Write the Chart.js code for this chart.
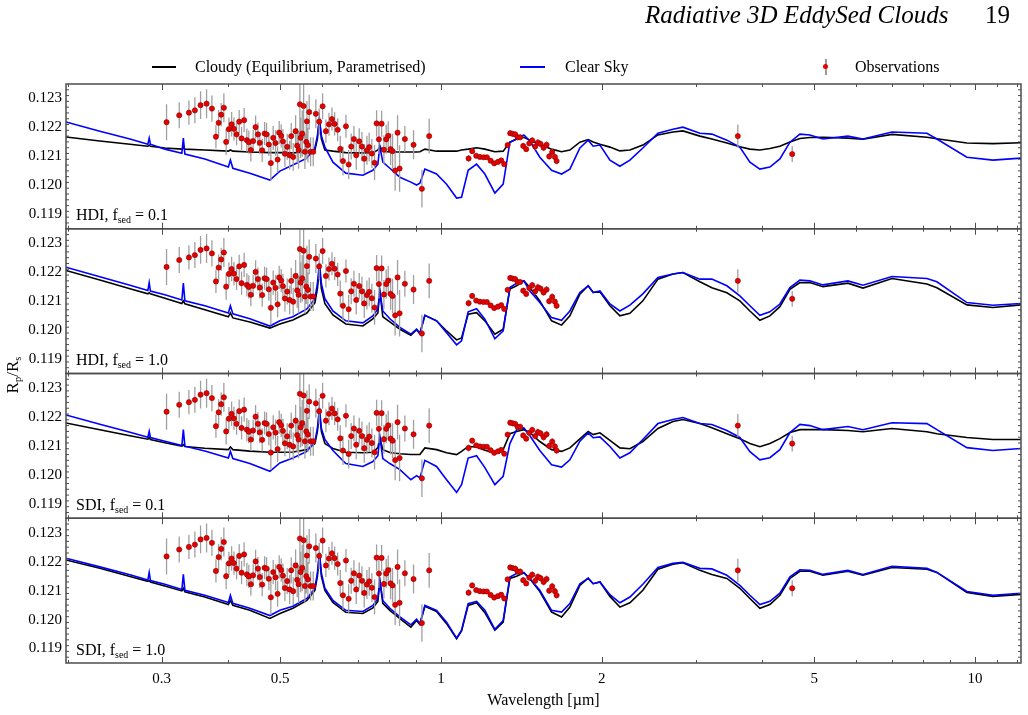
<!DOCTYPE html>
<html><head><meta charset="utf-8">
<script src="https://cdn.jsdelivr.net/npm/chart.js@4.4.1/dist/chart.umd.min.js"></script>
<style>
html,body{margin:0;padding:0;background:#fff;}
#wrap{position:relative;width:1028px;height:715px;font-family:'Liberation Serif','Times New Roman',serif;color:#000;overflow:hidden;}
#c{position:absolute;left:0;top:0;}
.t{position:absolute;white-space:nowrap;}
.hdr{top:0;font-size:25px;line-height:30px;}
.leg{top:57px;font-size:16px;line-height:20px;}
.lab{left:76px;font-size:16px;line-height:20px;}
sub{font-size:0.62em;vertical-align:baseline;position:relative;top:0.28em;}
.sw{position:absolute;height:2px;top:66px;}
#ytitle{position:absolute;left:14px;top:375px;font-size:17px;line-height:20px;transform:translate(-50%,-50%) rotate(-90deg);white-space:nowrap;}
</style></head>
<body>
<div id="wrap">
<canvas id="c" width="1028" height="715"></canvas>
<div class="t hdr" style="left:645px;font-style:italic;">Radiative 3D EddySed Clouds</div>
<div class="t hdr" style="left:985px;">19</div>
<div class="sw" style="left:152px;width:24px;background:#000;"></div>
<div class="t leg" style="left:195px;">Cloudy (Equilibrium, Parametrised)</div>
<div class="sw" style="left:520px;width:25px;background:#0000ff;"></div>
<div class="t leg" style="left:565px;">Clear Sky</div>
<div style="position:absolute;left:825px;top:59px;width:1.5px;height:16px;background:#9b9b9b;"></div>
<div style="position:absolute;left:823px;top:64px;width:5px;height:5px;border-radius:50%;background:#e60000;"></div>
<div class="t leg" style="left:855px;">Observations</div>
<div id="ytitle">R<sub>p</sub>/R<sub>s</sub></div>
<div class="t lab" style="top:205px;">HDI, f<sub>sed</sub> = 0.1</div>
<div class="t lab" style="top:350px;">HDI, f<sub>sed</sub> = 1.0</div>
<div class="t lab" style="top:495px;">SDI, f<sub>sed</sub> = 0.1</div>
<div class="t lab" style="top:640px;">SDI, f<sub>sed</sub> = 1.0</div>
</div>
<script>
// ---------- data ----------
const xTickLabels = [0.3, 0.5, 1, 2, 5, 10];
const yTickLabels = [0.119, 0.120, 0.121, 0.122, 0.123];

// model wavelength grid [micron]
const wl = [0.1986,0.2298,0.2617,0.2827,0.2843,0.2858,0.3042,0.3273,0.3294,0.3316,
0.3614,0.4000,0.4035,0.4078,0.4388,0.4784,0.4995,0.5283,0.5612,0.5808,
0.5871,0.5923,0.5974,0.6065,0.6278,0.6636,0.7143,0.7458,0.7621,0.7685,
0.7785,0.8025,0.8381,0.8786,0.9006,0.9134,0.9333,0.9816,1.0249,1.0701,
1.0932,1.1248,1.1665,1.2089,1.2621,1.3082,1.3465,1.3859,1.4303,1.4678,
1.5321,1.6117,1.6827,1.7441,1.8209,1.8871,1.9283,1.9854,2.0728,2.1639,
2.2593,2.3891,2.5496,2.7199,2.8396,3.0549,3.2171,3.4323,3.6292,3.7904,
3.9573,4.1316,4.3136,4.5050,4.7023,4.9091,5.1929,5.7835,6.1715,6.9937,
8.1310,8.4889,9.6605,10.807,12.196];

// Panel 1: HDI, fsed = 0.1
const clear1 = [0.12219,0.12187,0.12160,0.12142,0.12163,0.12142,0.12125,0.12111,0.12163,0.12108,
0.12091,0.12063,0.12087,0.12059,0.12042,0.12018,0.12049,0.12070,0.12094,0.12129,
0.12170,0.12229,0.12170,0.12132,0.12080,0.12042,0.12035,0.12052,0.12073,0.12135,
0.12080,0.12059,0.12028,0.12011,0.12001,0.12007,0.12056,0.12039,0.12004,0.11956,
0.11959,0.12052,0.12073,0.12039,0.11973,0.12004,0.12149,0.12160,0.12174,0.12153,
0.12097,0.12052,0.12039,0.12056,0.12129,0.12156,0.12135,0.12139,0.12087,0.12066,
0.12087,0.12129,0.12180,0.12194,0.12201,0.12180,0.12177,0.12156,0.12132,0.12080,
0.12056,0.12063,0.12091,0.12149,0.12177,0.12174,0.12160,0.12170,0.12160,0.12184,
0.12180,0.12160,0.12097,0.12087,0.12094];
const cloudy1 = [0.12167,0.12153,0.12142,0.12135,0.12139,0.12135,0.12129,0.12125,0.12129,0.12125,
0.12122,0.12118,0.12122,0.12118,0.12115,0.12113,0.12113,0.12112,0.12115,0.12122,
0.12160,0.12229,0.12160,0.12122,0.12118,0.12113,0.12112,0.12112,0.12122,0.12135,
0.12118,0.12115,0.12115,0.12115,0.12115,0.12116,0.12125,0.12118,0.12118,0.12118,
0.12122,0.12125,0.12130,0.12125,0.12116,0.12118,0.12149,0.12160,0.12166,0.12156,
0.12142,0.12125,0.12116,0.12122,0.12149,0.12158,0.12150,0.12142,0.12132,0.12119,
0.12122,0.12139,0.12174,0.12184,0.12188,0.12170,0.12160,0.12146,0.12133,0.12125,
0.12122,0.12127,0.12135,0.12150,0.12162,0.12165,0.12166,0.12163,0.12159,0.12176,
0.12166,0.12161,0.12146,0.12144,0.12147];

// Panel 2: HDI, fsed = 1.0
const clear2 = [0.12217,0.12184,0.12155,0.12137,0.12164,0.12135,0.12122,0.12104,0.12162,0.12101,
0.12084,0.12059,0.12084,0.12056,0.12039,0.12014,0.12032,0.12046,0.12073,0.12108,
0.12160,0.12232,0.12160,0.12108,0.12066,0.12032,0.12025,0.12049,0.12073,0.12135,
0.12066,0.12039,0.12009,0.11986,0.12003,0.11989,0.12051,0.12032,0.11991,0.11949,
0.11963,0.12063,0.12074,0.12038,0.11970,0.11997,0.12147,0.12162,0.12170,0.12135,
0.12095,0.12043,0.12034,0.12066,0.12130,0.12153,0.12130,0.12135,0.12090,0.12066,
0.12086,0.12125,0.12182,0.12194,0.12199,0.12176,0.12176,0.12153,0.12118,0.12084,
0.12051,0.12063,0.12090,0.12147,0.12173,0.12170,0.12156,0.12170,0.12155,0.12185,
0.12178,0.12167,0.12095,0.12086,0.12092];
const cloudy2 = [0.12206,0.12173,0.12143,0.12125,0.12129,0.12125,0.12110,0.12092,0.12101,0.12091,
0.12070,0.12046,0.12059,0.12042,0.12028,0.12007,0.12021,0.12035,0.12059,0.12094,
0.12142,0.12215,0.12142,0.12091,0.12052,0.12021,0.12014,0.12039,0.12059,0.12135,
0.12046,0.12028,0.12003,0.11982,0.12001,0.11987,0.12051,0.12032,0.11997,0.11966,
0.11973,0.12055,0.12060,0.12032,0.11986,0.12003,0.12142,0.12153,0.12170,0.12147,
0.12101,0.12032,0.12017,0.12049,0.12124,0.12153,0.12130,0.12132,0.12084,0.12049,
0.12058,0.12101,0.12176,0.12194,0.12199,0.12167,0.12146,0.12129,0.12101,0.12066,
0.12034,0.12049,0.12081,0.12141,0.12164,0.12164,0.12150,0.12162,0.12145,0.12178,
0.12159,0.12146,0.12087,0.12078,0.12087];

// Panel 3: SDI, fsed = 0.1
const clear3 = [0.12207,0.12175,0.12147,0.12130,0.12150,0.12129,0.12116,0.12101,0.12156,0.12099,
0.12082,0.12058,0.12081,0.12056,0.12039,0.12012,0.12041,0.12058,0.12081,0.12115,
0.12160,0.12228,0.12160,0.12122,0.12084,0.12039,0.12029,0.12046,0.12066,0.12133,
0.12056,0.12039,0.12018,0.11983,0.11997,0.11989,0.12050,0.12029,0.11983,0.11939,
0.11966,0.12058,0.12066,0.12025,0.11966,0.11995,0.12108,0.12156,0.12162,0.12135,
0.12084,0.12035,0.12027,0.12052,0.12116,0.12145,0.12128,0.12131,0.12098,0.12058,
0.12076,0.12122,0.12177,0.12191,0.12198,0.12177,0.12174,0.12153,0.12129,0.12080,
0.12052,0.12059,0.12087,0.12146,0.12174,0.12170,0.12156,0.12167,0.12156,0.12180,
0.12177,0.12156,0.12094,0.12084,0.12091];
const cloudy3 = [0.12179,0.12156,0.12135,0.12123,0.12129,0.12122,0.12111,0.12099,0.12104,0.12098,
0.12092,0.12087,0.12096,0.12087,0.12082,0.12078,0.12078,0.12079,0.12087,0.12108,
0.12149,0.12220,0.12149,0.12108,0.12091,0.12078,0.12076,0.12078,0.12094,0.12128,
0.12087,0.12077,0.12073,0.12070,0.12070,0.12070,0.12093,0.12087,0.12076,0.12070,
0.12081,0.12098,0.12096,0.12085,0.12076,0.12087,0.12142,0.12150,0.12156,0.12146,
0.12115,0.12087,0.12081,0.12093,0.12124,0.12150,0.12139,0.12145,0.12119,0.12093,
0.12090,0.12115,0.12160,0.12184,0.12191,0.12177,0.12163,0.12142,0.12125,0.12108,
0.12097,0.12108,0.12125,0.12146,0.12156,0.12156,0.12156,0.12153,0.12149,0.12160,
0.12149,0.12142,0.12129,0.12122,0.12122];

// Panel 4: SDI, fsed = 1.0
const clear4 = [0.12212,0.12182,0.12155,0.12137,0.12163,0.12135,0.12122,0.12104,0.12156,0.12101,
0.12084,0.12059,0.12084,0.12056,0.12039,0.12014,0.12032,0.12046,0.12073,0.12108,
0.12160,0.12232,0.12160,0.12108,0.12066,0.12032,0.12028,0.12049,0.12073,0.12135,
0.12066,0.12039,0.12009,0.11982,0.12001,0.11986,0.12049,0.12032,0.11991,0.11936,
0.11963,0.12055,0.12063,0.12032,0.11966,0.11997,0.12147,0.12159,0.12162,0.12141,
0.12101,0.12032,0.12026,0.12055,0.12124,0.12143,0.12124,0.12130,0.12086,0.12058,
0.12078,0.12122,0.12180,0.12194,0.12198,0.12177,0.12175,0.12153,0.12118,0.12084,
0.12052,0.12063,0.12091,0.12148,0.12172,0.12170,0.12156,0.12170,0.12156,0.12184,
0.12177,0.12163,0.12097,0.12084,0.12091];
const cloudy4 = [0.12206,0.12177,0.12149,0.12132,0.12135,0.12130,0.12116,0.12099,0.12108,0.12096,
0.12078,0.12052,0.12066,0.12049,0.12032,0.12004,0.12021,0.12039,0.12066,0.12101,
0.12149,0.12225,0.12149,0.12101,0.12059,0.12025,0.12021,0.12040,0.12063,0.12135,
0.12056,0.12032,0.12003,0.11974,0.11997,0.11983,0.12046,0.12028,0.11986,0.11934,
0.11961,0.12049,0.12058,0.12024,0.11963,0.11991,0.12142,0.12150,0.12162,0.12141,
0.12097,0.12026,0.12009,0.12043,0.12118,0.12143,0.12124,0.12130,0.12080,0.12043,
0.12058,0.12101,0.12174,0.12191,0.12196,0.12170,0.12156,0.12142,0.12108,0.12073,
0.12039,0.12052,0.12084,0.12142,0.12167,0.12167,0.12153,0.12167,0.12153,0.12180,
0.12174,0.12163,0.12094,0.12080,0.12087];

// Observations
const obsWl = [0.3064,0.3236,0.3374,0.3462,0.3548,0.3641,0.3726,0.3791,0.3835,0.3878,
0.3923,0.3962,0.4009,0.4056,0.4097,0.4144,0.4191,0.4234,0.4281,0.4332,
0.4369,0.4407,0.4451,0.4498,0.4543,0.4581,0.4628,0.4676,0.4716,0.4763,
0.4804,0.4853,0.4903,0.4946,0.4980,0.5023,0.5060,0.5104,0.5155,0.5209,
0.5245,0.5290,0.5345,0.5382,0.5414,0.5445,0.5462,0.5500,0.5533,0.5564,
0.5596,0.5612,0.5636,0.5668,0.5702,0.5767,0.5833,0.5917,0.6005,0.6091,
0.6172,0.6252,0.6325,0.6408,0.6480,0.6556,0.6641,0.6719,0.6793,0.6873,
0.6942,0.7032,0.7115,0.7186,0.7269,0.7341,0.7427,0.7513,0.7579,0.7655,
0.7745,0.7822,0.7900,0.7968,0.8050,0.8119,0.8210,0.8296,0.8369,0.8562,
0.8888,0.9214,0.9508,1.1269,1.1445,1.1644,1.1831,1.2023,1.2195,1.2392,
1.2585,1.2788,1.2972,1.3141,1.3334,1.3485,1.3626,1.3778,1.3921,1.4079,
1.4262,1.4448,1.4638,1.4826,1.5019,1.5193,1.5372,1.5572,1.5775,1.5953,
1.6160,1.6350,1.6471,3.598,4.549];
const obsVal = [0.12218,0.12242,0.12251,0.12259,0.12277,0.12282,0.12265,0.12168,0.12216,0.12244,
0.12268,0.12150,0.12194,0.12211,0.12195,0.12176,0.12220,0.12162,0.12225,0.12156,
0.12149,0.12122,0.12153,0.12201,0.12176,0.12147,0.12121,0.12179,0.12176,0.12141,
0.12077,0.12164,0.12146,0.12089,0.12182,0.12171,0.12152,0.12109,0.12133,0.12104,
0.12170,0.12098,0.12187,0.12137,0.12122,0.12280,0.12164,0.12179,0.12274,0.12116,
0.12150,0.12221,0.12139,0.12253,0.12116,0.12116,0.12247,0.12220,0.12273,0.12187,
0.12211,0.12229,0.12212,0.12192,0.12126,0.12084,0.12204,0.12072,0.12134,0.12160,
0.12104,0.12152,0.12134,0.12092,0.12121,0.12132,0.12110,0.12078,0.12214,0.12159,
0.12213,0.12123,0.12159,0.12171,0.12125,0.12118,0.12051,0.12182,0.12058,0.12160,
0.12140,0.11988,0.12170,0.12093,0.12118,0.12102,0.12098,0.12097,0.12097,0.12085,
0.12076,0.12081,0.12086,0.12073,0.12139,0.12180,0.12178,0.12176,0.12166,0.12166,
0.12136,0.12125,0.12145,0.12155,0.12134,0.12148,0.12143,0.12130,0.12140,0.12100,
0.12115,0.12098,0.12084,0.12170,0.12108];
const obsErr = [0.00062,0.00045,0.00042,0.00045,0.00048,0.00050,0.00045,0.00040,0.00045,0.00040,
0.00050,0.00045,0.00040,0.00042,0.00040,0.00038,0.00040,0.00040,0.00042,0.00040,
0.00040,0.00040,0.00038,0.00040,0.00040,0.00038,0.00040,0.00040,0.00040,0.00040,
0.00060,0.00042,0.00045,0.00045,0.00040,0.00040,0.00042,0.00045,0.00045,0.00050,
0.00045,0.00048,0.00055,0.00060,0.00065,0.00120,0.00070,0.00080,0.00110,0.00060,
0.00060,0.00070,0.00060,0.00060,0.00050,0.00050,0.00050,0.00045,0.00045,0.00040,
0.00040,0.00040,0.00040,0.00040,0.00045,0.00050,0.00040,0.00050,0.00045,0.00045,
0.00050,0.00045,0.00050,0.00050,0.00050,0.00050,0.00050,0.00060,0.00045,0.00050,
0.00045,0.00050,0.00050,0.00050,0.00055,0.00060,0.00070,0.00060,0.00080,0.00045,
0.00050,0.00065,0.00060,0.00012,0.00010,0.00008,0.00008,0.00008,0.00008,0.00008,
0.00008,0.00008,0.00008,0.00009,0.00009,0.00010,0.00010,0.00010,0.00010,0.00010,
0.00010,0.00010,0.00010,0.00012,0.00012,0.00012,0.00012,0.00012,0.00012,0.00012,
0.00012,0.00012,0.00012,0.00040,0.00027];

// ---------- chart ----------
const panelIds = ['y1','y2','y3','y4'];
const clearSets = [clear1, clear2, clear3, clear4];
const cloudySets = [cloudy1, cloudy2, cloudy3, cloudy4];

const datasets = [];
panelIds.forEach((id) => {
  datasets.push({
    type: 'scatter', label: 'Observations', yAxisID: id, xAxisID: 'x',
    data: obsWl.map((w, i) => ({x: w, y: obsVal[i]})),
    errors: obsErr,
    pointRadius: 2.6, pointHoverRadius: 2.6,
    pointBackgroundColor: '#e60000', pointBorderColor: '#8a0000', pointBorderWidth: 0.6,
    showLine: false
  });
});
panelIds.forEach((id, p) => {
  datasets.push({
    type: 'line', label: 'Clear Sky', yAxisID: id, xAxisID: 'x',
    data: wl.map((w, i) => ({x: w, y: clearSets[p][i]})),
    borderColor: '#0000ff', borderWidth: 1.6, pointRadius: 0, tension: 0, fill: false
  });
});
panelIds.forEach((id, p) => {
  datasets.push({
    type: 'line', label: 'Cloudy (Equilibrium, Parametrised)', yAxisID: id, xAxisID: 'x',
    data: wl.map((w, i) => ({x: w, y: cloudySets[p][i]})),
    borderColor: '#000000', borderWidth: 1.6, pointRadius: 0, tension: 0, fill: false
  });
});

const errorBars = {
  id: 'errorBars',
  beforeDatasetDraw(chart, args) {
    const ds = chart.data.datasets[args.index];
    if (!ds.errors) return;
    const ctx = chart.ctx, xs = chart.scales.x, ys = chart.scales[ds.yAxisID], a = chart.chartArea;
    ctx.save();
    ctx.beginPath(); ctx.rect(a.left, ys.top, a.right - a.left, ys.bottom - ys.top); ctx.clip();
    ctx.strokeStyle = '#a0a0a0'; ctx.lineWidth = 1.3;
    ctx.beginPath();
    ds.data.forEach((p, i) => {
      const px = xs.getPixelForValue(p.x);
      ctx.moveTo(px, ys.getPixelForValue(p.y - ds.errors[i]));
      ctx.lineTo(px, ys.getPixelForValue(p.y + ds.errors[i]));
    });
    ctx.stroke();
    ctx.restore();
  }
};

const xMinor = [0.2,0.3,0.4,0.5,0.6,0.7,0.8,0.9,1,2,3,4,5,6,7,8,9,10,11,12];
const frames = {
  id: 'frames',
  afterDatasetsDraw(chart) {
    const ctx = chart.ctx, xs = chart.scales.x, a = chart.chartArea;
    ctx.save();
    ctx.strokeStyle = '#4d4d4d';
    panelIds.forEach(id => {
      const s = chart.scales[id];
      const top = s.top, bot = s.bottom;
      ctx.lineWidth = 1;
      ctx.beginPath();
      xMinor.forEach(v => {
        const px = Math.round(xs.getPixelForValue(v)) + 0.5;
        if (px < a.left || px > a.right) return;
        const len = xTickLabels.includes(v) ? 6 : 3;
        ctx.moveTo(px, top); ctx.lineTo(px, top + len);
        ctx.moveTo(px, bot); ctx.lineTo(px, bot - len);
      });
      for (let k = 0; k <= 25; k++) {
        const v = 0.1185 + k * 0.0002;
        const py = s.getPixelForValue(v);
        if (py < top + 1 || py > bot - 1) continue;
        const major = yTickLabels.some(t => Math.abs(t - v) < 1e-7);
        const len = major ? 6 : 3;
        ctx.moveTo(a.left, py); ctx.lineTo(a.left + len, py);
        ctx.moveTo(a.right, py); ctx.lineTo(a.right - len, py);
      }
      ctx.stroke();
      ctx.lineWidth = 1.5;
      ctx.strokeRect(a.left, top, a.right - a.left, bot - top);
    });
    ctx.restore();
  }
};

function yScale(w) {
  return {
    type: 'linear', position: 'left', stack: 'panels', stackWeight: 1, weight: w,
    min: 0.1185, max: 0.1235, offset: false,
    grid: {display: false, drawTicks: false}, border: {display: false},
    afterBuildTicks: s => { s.ticks = yTickLabels.map(v => ({value: v})); },
    afterFit: s => { s.width = 66; },
    ticks: {padding: 4, autoSkip: false, color: '#000', font: {size: 15}, callback: v => Number(v).toFixed(3)}
  };
}

Chart.defaults.font.family = "'Liberation Serif','Times New Roman',serif";
Chart.defaults.color = '#000';

new Chart(document.getElementById('c'), {
  type: 'line',
  data: {datasets},
  options: {
    responsive: false, animation: false, devicePixelRatio: 1,
    layout: {padding: {top: 84, right: 7, left: 0, bottom: 0}},
    plugins: {legend: {display: false}, tooltip: {enabled: false}},
    scales: {
      x: {
        type: 'logarithmic', position: 'bottom', min: 0.1986, max: 12.2,
        grid: {display: false, drawTicks: false}, border: {display: false},
        afterBuildTicks: s => { s.ticks = xTickLabels.map(v => ({value: v})); },
        afterFit: s => { s.height = 52; },
        ticks: {padding: 7, autoSkip: false, maxRotation: 0, color: '#000', font: {size: 15}, callback: v => String(v)},
        title: {display: true, text: 'Wavelength [µm]', color: '#000', font: {size: 16}, padding: {top: 0, bottom: 5}}
      },
      y1: yScale(4), y2: yScale(3), y3: yScale(2), y4: yScale(1)
    }
  },
  plugins: [errorBars, frames]
});
</script>
</body></html>
